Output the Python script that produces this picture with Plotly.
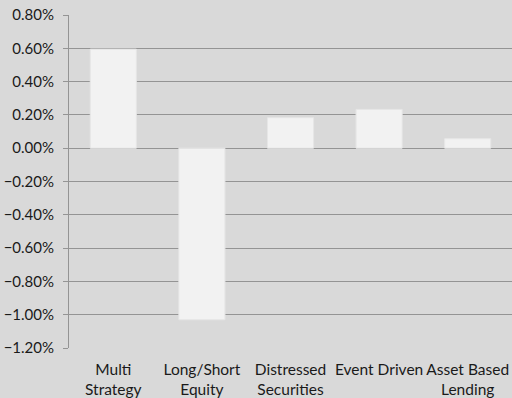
import plotly.graph_objects as go

categories = ["Multi Strategy", "Long/Short Equity", "Distressed Securities", "Event Driven", "Asset Based Lending"]
tick_text = ["Multi<br>Strategy", "Long/Short<br>Equity", "Distressed<br>Securities", "Event Driven", "Asset Based<br>Lending"]
returns = [0.00595, -0.0103, 0.00183, 0.00233, 0.00057]
y_ticks = [0.008, 0.006, 0.004, 0.002, 0.0, -0.002, -0.004, -0.006, -0.008, -0.010, -0.012]

fig = go.Figure(
    go.Bar(
        x=categories,
        y=returns,
        width=0.52,
        marker=dict(color="#f2f2f2", line=dict(color="#e6e6e6", width=1)),
    )
)

fig.update_layout(
    width=512,
    height=398,
    margin=dict(l=69, r=0, t=15, b=50),
    paper_bgcolor="#d9d9d9",
    plot_bgcolor="#d9d9d9",
    font=dict(family="Lato", size=15, color="#1a1a1a"),
    showlegend=False,
    bargap=0.48,
)

fig.update_xaxes(
    tickvals=categories,
    ticktext=tick_text,
    showgrid=False,
    showline=False,
    ticks="",
    ticklabelstandoff=10,
    tickfont=dict(size=15.5),
)

fig.update_yaxes(
    range=[-0.012, 0.008],
    tickvals=y_ticks,
    tickformat=".2%",
    showgrid=True,
    gridcolor="#949494",
    gridwidth=1,
    zeroline=True,
    zerolinecolor="#949494",
    zerolinewidth=1,
    showline=True,
    linecolor="#949494",
    linewidth=1,
    ticks="outside",
    ticklen=5,
    tickcolor="#949494",
    ticklabelstandoff=6,
    tickfont=dict(size=15),
)

fig.write_html("out.html")
